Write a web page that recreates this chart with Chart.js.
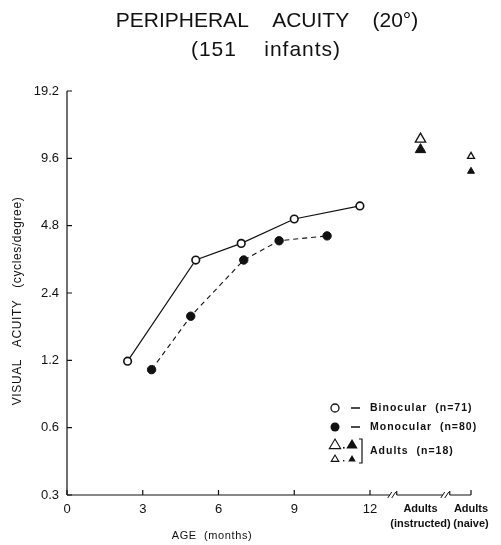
<!DOCTYPE html>
<html>
<head>
<meta charset="utf-8">
<script src="https://cdn.jsdelivr.net/npm/chart.js@4.4.1/dist/chart.umd.min.js"></script>
<style>
  html, body { margin: 0; padding: 0; background: #fff; }
</style>
</head>
<body>
<canvas id="acuityChart" width="501" height="545"></canvas>
<script>
// Peripheral acuity (20 deg)
const binoAge = [2.4, 5.1, 6.9, 9.0, 11.6];
const binoAcuity = [1.19, 3.37, 4.0, 5.14, 5.88];
const monoAge = [3.35, 4.9, 7.0, 8.4, 10.3];
const monoAcuity = [1.09, 1.89, 3.37, 4.11, 4.32];

// adults sit past the axis break
const adultPos = [14, 16];
const adultLabels = [['Adults', '(instructed)'], ['Adults', '(naive)']];
const adultOpen = [11.7, 9.8];
const adultFilled = [10.5, 8.4];

const xTicks = [0, 3, 6, 9, 12];
const yTicks = [0.3, 0.6, 1.2, 2.4, 4.8, 9.6, 19.2];
const xBreaks = [12.9, 15];

const ink = '#111';
const fontFamily = '"Liberation Sans", Arial, sans-serif';

const toPoints = (xs, ys) => xs.map((x, i) => ({ x: x, y: ys[i] }));

const framePlugin = {
  id: 'frame',
  afterDraw(chart) {
    const ctx = chart.ctx;
    const xs = chart.scales.x;
    const ys = chart.scales.y;
    const area = chart.chartArea;
    ctx.save();
    ctx.strokeStyle = ink;
    ctx.fillStyle = ink;
    ctx.lineWidth = 1.2;

    // y axis with inward ticks
    ctx.beginPath();
    ctx.moveTo(area.left, area.top);
    ctx.lineTo(area.left, area.bottom);
    yTicks.forEach(v => {
      const py = ys.getPixelForValue(v);
      ctx.moveTo(area.left, py);
      ctx.lineTo(area.left + 5, py);
    });
    ctx.stroke();

    // x axis, broken twice
    const gaps = xBreaks.map(v => xs.getPixelForValue(v));
    let start = area.left;
    ctx.beginPath();
    gaps.forEach(g => {
      ctx.moveTo(start, area.bottom);
      ctx.lineTo(g - 3, area.bottom);
      start = g + 4;
      ctx.moveTo(start, area.bottom);
      ctx.lineTo(start, area.bottom - 4);
    });
    ctx.moveTo(start, area.bottom);
    ctx.lineTo(area.right, area.bottom);
    [...xTicks, adultPos[1]].forEach(v => {
      const px = xs.getPixelForValue(v);
      ctx.moveTo(px, area.bottom);
      ctx.lineTo(px, area.bottom - 5);
    });
    ctx.stroke();
    ctx.lineWidth = 1;
    ctx.beginPath();
    gaps.forEach(g => {
      ctx.moveTo(g - 5, area.bottom + 3);
      ctx.lineTo(g - 1, area.bottom - 3);
      ctx.moveTo(g - 1, area.bottom + 3);
      ctx.lineTo(g + 3, area.bottom - 3);
    });
    ctx.stroke();

    // titles
    ctx.textAlign = 'center';
    ctx.textBaseline = 'alphabetic';
    ctx.font = '21px ' + fontFamily;
    ctx.fillText('PERIPHERAL    ACUITY    (20°)', 267, 27);
    ctx.letterSpacing = '1px';
    ctx.fillText('(151    infants)', 266, 56);

    ctx.font = '11px ' + fontFamily;
    ctx.letterSpacing = '0.6px';
    ctx.fillText('AGE  (months)', 212, 539);

    ctx.save();
    ctx.translate(21, 301);
    ctx.rotate(-Math.PI / 2);
    ctx.font = '12px ' + fontFamily;
    ctx.letterSpacing = '0.6px';
    ctx.fillText('VISUAL   ACUITY   (cycles/degree)', 0, 0);
    ctx.restore();

    // legend
    const lx = 335;
    ctx.lineWidth = 1.3;
    ctx.beginPath();
    ctx.arc(lx, 408, 4, 0, Math.PI * 2);
    ctx.fillStyle = '#fff';
    ctx.fill();
    ctx.stroke();
    ctx.fillStyle = ink;
    ctx.beginPath();
    ctx.arc(lx, 427, 4.5, 0, Math.PI * 2);
    ctx.fill();
    ctx.beginPath();
    ctx.moveTo(351, 408); ctx.lineTo(360, 408);
    ctx.moveTo(351, 427); ctx.lineTo(360, 427);
    ctx.stroke();

    const tri = (cx, cy, r, filled) => {
      ctx.beginPath();
      ctx.moveTo(cx, cy - r);
      ctx.lineTo(cx + r * 0.95, cy + r * 0.6);
      ctx.lineTo(cx - r * 0.95, cy + r * 0.6);
      ctx.closePath();
      if (filled) { ctx.fill(); } else { ctx.lineWidth = 1.1; ctx.stroke(); }
    };
    tri(lx, 445, 6, false);
    tri(352, 445, 6, true);
    tri(lx, 459, 4, false);
    tri(352, 459, 4, true);
    ctx.fillRect(343, 447, 1.6, 1.6);
    ctx.fillRect(343, 460, 1.4, 1.4);

    ctx.lineWidth = 1.2;
    ctx.beginPath();
    ctx.moveTo(359, 439); ctx.lineTo(362, 439);
    ctx.lineTo(362, 463); ctx.lineTo(359, 463);
    ctx.stroke();

    ctx.textAlign = 'left';
    ctx.textBaseline = 'middle';
    ctx.font = 'bold 10.5px ' + fontFamily;
    ctx.letterSpacing = '1px';
    ctx.fillText('Binocular  (n=71)', 370, 408);
    ctx.fillText('Monocular  (n=80)', 370, 427);
    ctx.fillText('Adults  (n=18)', 370, 451);
    ctx.restore();
  }
};

new Chart(document.getElementById('acuityChart'), {
  type: 'scatter',
  data: {
    datasets: [
      {
        label: 'Binocular (n=71)',
        data: toPoints(binoAge, binoAcuity),
        showLine: true,
        borderColor: ink,
        borderWidth: 1.2,
        pointRadius: 3.8,
        pointBackgroundColor: '#fff',
        pointBorderColor: ink,
        pointBorderWidth: 1.6,
        clip: false
      },
      {
        label: 'Monocular (n=80)',
        data: toPoints(monoAge, monoAcuity),
        showLine: true,
        borderColor: ink,
        borderWidth: 1.1,
        borderDash: [5, 4],
        pointRadius: 4.2,
        pointBackgroundColor: ink,
        pointBorderColor: ink,
        pointBorderWidth: 1,
        clip: false
      },
      {
        label: 'Adults open',
        data: toPoints(adultPos, adultOpen),
        pointStyle: 'triangle',
        pointRadius: [6, 4],
        pointBackgroundColor: '#fff',
        pointBorderColor: ink,
        pointBorderWidth: 1.3,
        clip: false
      },
      {
        label: 'Adults filled',
        data: toPoints(adultPos, adultFilled),
        pointStyle: 'triangle',
        pointRadius: [6, 4],
        pointBackgroundColor: ink,
        pointBorderColor: ink,
        pointBorderWidth: 1,
        clip: false
      }
    ]
  },
  options: {
    responsive: false,
    animation: false,
    layout: { padding: { top: 91, right: 30, left: 0, bottom: 0 } },
    plugins: {
      legend: { display: false },
      tooltip: { enabled: false }
    },
    scales: {
      x: {
        type: 'linear',
        min: 0,
        max: 16,
        afterBuildTicks: s => { s.ticks = [...xTicks, ...adultPos].map(v => ({ value: v })); },
        afterFit: s => { s.height = 50; },
        grid: { display: false, drawTicks: false },
        border: { display: false },
        ticks: {
          color: ink,
          padding: 7,
          autoSkip: false,
          maxRotation: 0,
          font: c => (c.tick && c.tick.value > 12)
            ? { family: fontFamily, size: 11, weight: 'bold', lineHeight: 1.35 }
            : { family: fontFamily, size: 13 },
          callback: v => {
            const i = adultPos.indexOf(v);
            return i >= 0 ? adultLabels[i] : String(v);
          }
        }
      },
      y: {
        type: 'logarithmic',
        min: 0.3,
        max: 19.2,
        afterBuildTicks: s => { s.ticks = yTicks.map(v => ({ value: v })); },
        afterFit: s => { s.width = 67; },
        grid: { display: false, drawTicks: false },
        border: { display: false },
        ticks: {
          color: ink,
          padding: 8,
          font: { family: fontFamily, size: 13 },
          callback: v => String(v)
        }
      }
    }
  },
  plugins: [framePlugin]
});
</script>
</body>
</html>
